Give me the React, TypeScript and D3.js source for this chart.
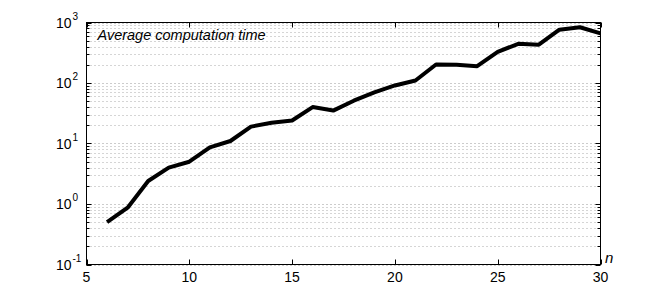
import React from "react";
import * as d3 from "d3";

const nValues = [6, 7, 8, 9, 10, 11, 12, 13, 14, 15, 16, 17, 18, 19, 20, 21, 22, 23, 24, 25, 26, 27, 28, 29, 30];
const timeValues = [0.5, 0.87, 2.4, 4.0, 5.0, 8.6, 11, 19, 22, 24, 40, 35, 51, 70, 91, 110, 202, 200, 190, 328, 445, 430, 760, 835, 660];
const xTicks = [5, 10, 15, 20, 25, 30];
const yExponents = [-1, 0, 1, 2, 3];
const title = "Average computation time";
const xLabel = "n";

const W = 664, H = 299;
const L = 86.5, R = 600.5, T = 22.5, B = 264.5;

export default function App() {
  const x = d3.scaleLinear().domain([5, 30]).range([L, R]);
  const y = d3.scaleLog().domain([0.1, 1000]).range([B, T]);
  const minor: number[] = [];
  for (let e = -1; e < 3; e++) for (let m = 2; m <= 9; m++) minor.push(m * Math.pow(10, e));
  const line = d3.line<number>().x((_, i) => x(nValues[i])).y((d) => y(d));
  const font = "'Liberation Sans', Arial, Helvetica, sans-serif";
  return (
    <svg width={W} height={H} style={{ position: "absolute", left: 0, top: 0, background: "#fff" }} fontFamily={font}>
      {yExponents.map((e) => (
        <line key={"g" + e} x1={L} x2={R} y1={Math.round(y(Math.pow(10, e))) + 0.5} y2={Math.round(y(Math.pow(10, e))) + 0.5}
          stroke="#999" strokeWidth={1} strokeDasharray="1,3" />
      ))}
      {minor.map((v) => (
        <line key={"m" + v} x1={L} x2={R} y1={Math.round(y(v)) + 0.5} y2={Math.round(y(v)) + 0.5}
          stroke="#aaa" strokeWidth={1} strokeDasharray="1,3" />
      ))}
      {minor.map((v) => (
        <g key={"mt" + v}>
          <line x1={L} x2={L + 3} y1={Math.round(y(v)) + 0.5} y2={Math.round(y(v)) + 0.5} stroke="#000" />
          <line x1={R - 3} x2={R} y1={Math.round(y(v)) + 0.5} y2={Math.round(y(v)) + 0.5} stroke="#000" />
        </g>
      ))}
      {yExponents.map((e) => (
        <g key={"yt" + e}>
          <line x1={L} x2={L + 5} y1={Math.round(y(Math.pow(10, e))) + 0.5} y2={Math.round(y(Math.pow(10, e))) + 0.5} stroke="#000" />
          <line x1={R - 5} x2={R} y1={Math.round(y(Math.pow(10, e))) + 0.5} y2={Math.round(y(Math.pow(10, e))) + 0.5} stroke="#000" />
          <text x={L - 15} y={y(Math.pow(10, e)) + 5} textAnchor="end" fontSize={14} fill="#000">10</text>
          <text x={L - 14} y={y(Math.pow(10, e)) - 3} textAnchor="start" fontSize={10} fill="#000">{e}</text>
        </g>
      ))}
      {xTicks.map((t) => (
        <g key={"xt" + t}>
          <line x1={Math.round(x(t)) + 0.5} x2={Math.round(x(t)) + 0.5} y1={B} y2={B - 5} stroke="#000" />
          <line x1={Math.round(x(t)) + 0.5} x2={Math.round(x(t)) + 0.5} y1={T} y2={T + 5} stroke="#000" />
          <text x={x(t)} y={282} textAnchor="middle" fontSize={14} fill="#000">{t}</text>
        </g>
      ))}
      <rect x={L} y={T} width={R - L} height={B - T} fill="none" stroke="#000" strokeWidth={1} />
      <path d={line(timeValues) || ""} fill="none" stroke="#000" strokeWidth={4} strokeLinejoin="round" />
      <text x={97.5} y={40} fontSize={14.5} fontStyle="italic" fill="#000">{title}</text>
      <text x={605} y={263} fontSize={15} fontStyle="italic" fill="#000">{xLabel}</text>
    </svg>
  );
}
